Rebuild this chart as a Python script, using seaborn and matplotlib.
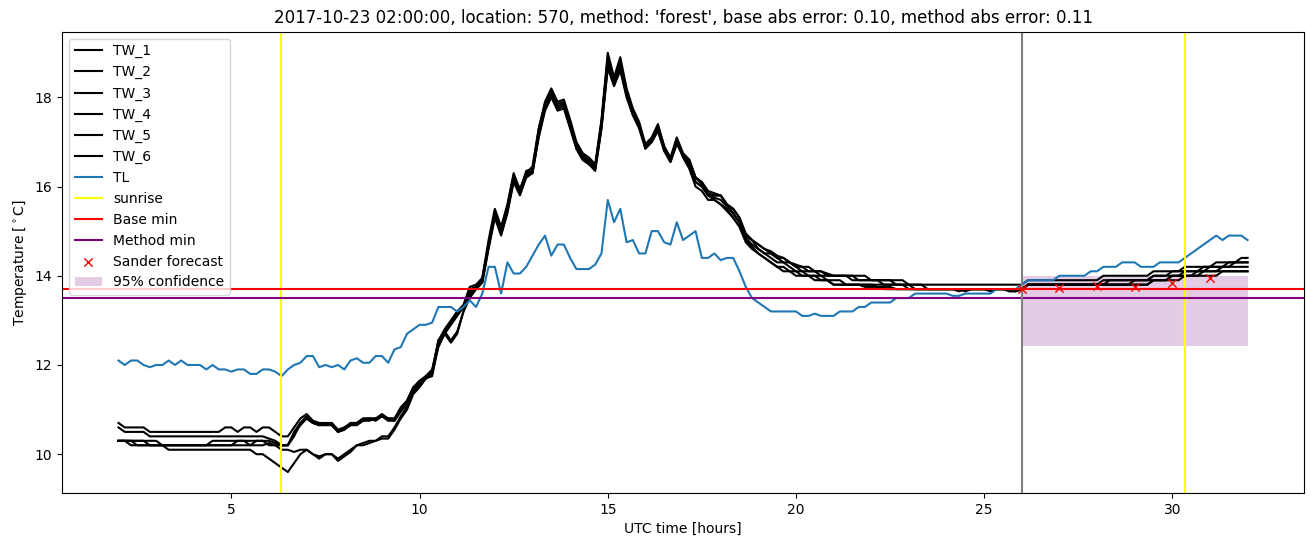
import numpy as np
import matplotlib
matplotlib.use("Agg")
import matplotlib.pyplot as plt
import seaborn as sns

# time grid: 10-minute steps from 02:00 to 32:00 (UTC hours)
hours = np.round(np.arange(181) / 6 + 2, 4)

TW_1 = [
    10.7, 10.6, 10.6, 10.6, 10.6, 10.5, 10.5, 10.5, 10.5, 10.5, 10.5, 10.5,
    10.5, 10.5, 10.5, 10.5, 10.5, 10.6, 10.6, 10.5, 10.6, 10.6, 10.5, 10.6,
    10.6, 10.5, 10.4, 10.4, 10.6, 10.8, 10.9, 10.75, 10.7, 10.7, 10.7, 10.5,
    10.6, 10.7, 10.7, 10.8, 10.8, 10.8, 10.9, 10.8, 10.8, 11.05, 11.2, 11.5,
    11.65, 11.75, 11.85, 12.55, 12.8, 13.0, 13.2, 13.35, 13.75, 13.8, 13.95, 14.8,
    15.5, 15.1, 15.6, 16.3, 15.9, 16.35, 16.4, 17.3, 17.9, 18.2, 17.9, 17.95,
    17.5, 17.0, 16.75, 16.65, 16.5, 17.5, 19.0, 18.45, 18.9, 18.2, 17.75, 17.45,
    16.95, 17.1, 17.4, 16.9, 16.65, 17.1, 16.75, 16.6, 16.2, 16.1, 15.9, 15.85,
    15.8, 15.6, 15.5, 15.3, 14.95, 14.8, 14.7, 14.6, 14.55, 14.45, 14.4, 14.3,
    14.25, 14.2, 14.2, 14.1, 14.1, 14.05, 14.0, 14.0, 14.0, 14.0, 14.0, 14.0,
    13.9, 13.9, 13.9, 13.9, 13.9, 13.9, 13.8, 13.8, 13.8, 13.8, 13.8, 13.8,
    13.8, 13.8, 13.8, 13.8, 13.8, 13.8, 13.8, 13.8, 13.8, 13.8, 13.8, 13.8,
    13.8, 13.9, 13.9, 13.9, 13.9, 13.9, 13.9, 13.9, 13.9, 13.9, 13.9, 13.9,
    13.9, 14.0, 14.0, 14.0, 14.0, 14.0, 14.0, 14.0, 14.0, 14.1, 14.1, 14.1,
    14.1, 14.1, 14.2, 14.2, 14.2, 14.2, 14.2, 14.3, 14.3, 14.3, 14.3, 14.4,
    14.4,
]

TW_2 = [
    10.6, 10.5, 10.5, 10.5, 10.5, 10.4, 10.4, 10.4, 10.4, 10.4, 10.4, 10.4,
    10.4, 10.4, 10.4, 10.4, 10.4, 10.4, 10.4, 10.4, 10.4, 10.4, 10.4, 10.4,
    10.35, 10.3, 10.2, 10.2, 10.5, 10.7, 10.8, 10.7, 10.65, 10.7, 10.65, 10.5,
    10.55, 10.7, 10.7, 10.75, 10.8, 10.75, 10.85, 10.8, 10.75, 11.0, 11.15, 11.45,
    11.6, 11.7, 11.8, 12.5, 12.75, 12.95, 13.15, 13.3, 13.65, 13.75, 13.9, 14.7,
    15.4, 15.0, 15.5, 16.2, 15.85, 16.3, 16.35, 17.2, 17.8, 18.1, 17.8, 17.85,
    17.4, 16.9, 16.7, 16.6, 16.45, 17.4, 18.85, 18.35, 18.75, 18.1, 17.7, 17.4,
    16.9, 17.05, 17.3, 16.85, 16.6, 17.05, 16.7, 16.55, 16.2, 16.1, 15.85, 15.8,
    15.8, 15.6, 15.5, 15.3, 14.9, 14.8, 14.7, 14.6, 14.5, 14.4, 14.4, 14.3,
    14.2, 14.2, 14.1, 14.1, 14.1, 14.0, 14.0, 14.0, 14.0, 13.9, 13.9, 13.9,
    13.9, 13.9, 13.8, 13.8, 13.8, 13.8, 13.8, 13.7, 13.7, 13.7, 13.7, 13.7,
    13.7, 13.7, 13.7, 13.7, 13.7, 13.7, 13.7, 13.7, 13.7, 13.7, 13.7, 13.7,
    13.7, 13.8, 13.8, 13.8, 13.8, 13.8, 13.8, 13.8, 13.8, 13.8, 13.8, 13.8,
    13.8, 13.8, 13.9, 13.9, 13.9, 13.9, 13.9, 13.9, 13.9, 14.0, 14.0, 14.0,
    14.0, 14.0, 14.1, 14.1, 14.1, 14.1, 14.2, 14.2, 14.2, 14.2, 14.3, 14.3,
    14.3,
]

TW_3 = [
    10.3, 10.3, 10.3, 10.3, 10.3, 10.3, 10.3, 10.2, 10.2, 10.2, 10.2, 10.2,
    10.2, 10.2, 10.2, 10.3, 10.3, 10.3, 10.3, 10.3, 10.3, 10.3, 10.3, 10.3,
    10.3, 10.25, 10.2, 10.2, 10.4, 10.7, 10.85, 10.7, 10.7, 10.65, 10.7, 10.55,
    10.6, 10.65, 10.7, 10.8, 10.8, 10.8, 10.85, 10.8, 10.8, 11.0, 11.2, 11.5,
    11.6, 11.7, 11.8, 12.4, 12.7, 12.95, 13.2, 13.3, 13.7, 13.75, 13.95, 14.7,
    15.45, 15.0, 15.55, 16.25, 15.95, 16.3, 16.45, 17.3, 17.85, 18.15, 17.85, 17.9,
    17.45, 16.95, 16.7, 16.6, 16.45, 17.45, 18.9, 18.4, 18.8, 18.15, 17.7, 17.4,
    16.9, 17.05, 17.35, 16.9, 16.6, 17.05, 16.7, 16.5, 16.1, 16.0, 15.8, 15.8,
    15.8, 15.6, 15.4, 15.2, 14.9, 14.8, 14.6, 14.5, 14.5, 14.4, 14.3, 14.3,
    14.2, 14.1, 14.1, 14.1, 14.0, 14.0, 14.0, 14.0, 14.0, 14.0, 13.9, 13.9,
    13.9, 13.9, 13.9, 13.9, 13.8, 13.8, 13.8, 13.8, 13.8, 13.7, 13.7, 13.7,
    13.7, 13.7, 13.7, 13.7, 13.7, 13.7, 13.7, 13.7, 13.7, 13.7, 13.7, 13.7,
    13.7, 13.8, 13.8, 13.8, 13.8, 13.8, 13.8, 13.8, 13.8, 13.8, 13.8, 13.8,
    13.8, 13.9, 13.9, 13.9, 13.9, 13.9, 13.9, 13.9, 13.9, 14.0, 14.0, 14.0,
    14.1, 14.1, 14.1, 14.1, 14.1, 14.2, 14.2, 14.2, 14.2, 14.3, 14.3, 14.3,
    14.3,
]

TW_4 = [
    10.3, 10.3, 10.3, 10.2, 10.2, 10.2, 10.2, 10.2, 10.2, 10.2, 10.2, 10.2,
    10.2, 10.2, 10.2, 10.2, 10.2, 10.2, 10.2, 10.3, 10.3, 10.2, 10.3, 10.3,
    10.2, 10.2, 10.2, 10.2, 10.45, 10.65, 10.8, 10.7, 10.65, 10.65, 10.65, 10.5,
    10.55, 10.65, 10.65, 10.75, 10.75, 10.8, 10.85, 10.75, 10.75, 10.95, 11.1, 11.45,
    11.55, 11.7, 11.75, 12.45, 12.7, 12.9, 13.1, 13.3, 13.6, 13.7, 13.85, 14.65,
    15.35, 14.95, 15.45, 16.15, 15.85, 16.25, 16.3, 17.15, 17.75, 18.05, 17.75, 17.8,
    17.35, 16.85, 16.6, 16.5, 16.4, 17.3, 18.7, 18.3, 18.65, 18.05, 17.6, 17.35,
    16.85, 17.0, 17.25, 16.8, 16.55, 17.0, 16.65, 16.4, 16.0, 15.9, 15.7, 15.7,
    15.6, 15.5, 15.3, 15.1, 14.8, 14.65, 14.5, 14.4, 14.3, 14.2, 14.2, 14.1,
    14.1, 14.0, 14.0, 14.0, 13.9, 13.9, 13.8, 13.8, 13.8, 13.8, 13.8, 13.8,
    13.8, 13.75, 13.75, 13.75, 13.7, 13.7, 13.7, 13.7, 13.7, 13.7, 13.7, 13.7,
    13.7, 13.7, 13.7, 13.65, 13.7, 13.7, 13.7, 13.7, 13.7, 13.7, 13.7, 13.65,
    13.7, 13.8, 13.8, 13.8, 13.8, 13.8, 13.8, 13.8, 13.8, 13.8, 13.8, 13.8,
    13.8, 13.8, 13.8, 13.8, 13.8, 13.8, 13.8, 13.8, 13.8, 13.9, 13.9, 13.9,
    14.0, 14.0, 14.0, 14.0, 14.0, 14.1, 14.1, 14.1, 14.1, 14.1, 14.1, 14.1,
    14.1,
]

TW_5 = [
    10.3, 10.3, 10.2, 10.2, 10.2, 10.2, 10.2, 10.2, 10.1, 10.1, 10.1, 10.1,
    10.1, 10.1, 10.1, 10.1, 10.1, 10.1, 10.1, 10.1, 10.1, 10.1, 10.0, 10.0,
    9.9, 9.8, 9.7, 9.6, 9.8, 10.0, 10.1, 10.0, 9.9, 10.0, 10.0, 9.85,
    9.95, 10.05, 10.2, 10.2, 10.25, 10.3, 10.35, 10.35, 10.55, 10.8, 11.0, 11.35,
    11.5, 11.7, 11.85, 12.55, 12.7, 12.5, 12.7, 13.2, 13.5, 13.7, 13.85, 14.6,
    15.3, 14.9, 15.4, 16.1, 15.8, 16.2, 16.3, 17.1, 17.7, 18.0, 17.7, 17.75,
    17.3, 16.85, 16.6, 16.5, 16.35, 17.3, 18.65, 18.25, 18.6, 18.0, 17.6, 17.3,
    16.85, 17.0, 17.25, 16.8, 16.55, 16.95, 16.7, 16.45, 16.1, 16.0, 15.8, 15.7,
    15.6, 15.45, 15.3, 15.1, 14.75, 14.6, 14.5, 14.4, 14.3, 14.2, 14.1, 14.1,
    14.0, 14.0, 14.0, 13.9, 13.9, 13.9, 13.8, 13.8, 13.8, 13.8, 13.8, 13.75,
    13.75, 13.75, 13.7, 13.7, 13.7, 13.7, 13.7, 13.7, 13.7, 13.7, 13.7, 13.7,
    13.7, 13.7, 13.7, 13.7, 13.7, 13.7, 13.7, 13.7, 13.7, 13.7, 13.65, 13.65,
    13.7, 13.8, 13.8, 13.8, 13.8, 13.8, 13.8, 13.8, 13.8, 13.8, 13.8, 13.8,
    13.8, 13.8, 13.8, 13.8, 13.8, 13.8, 13.8, 13.8, 13.8, 13.9, 13.9, 13.9,
    13.9, 13.9, 14.0, 14.0, 14.0, 14.0, 14.0, 14.0, 14.1, 14.1, 14.1, 14.1,
    14.1,
]

TW_6 = [
    10.3, 10.3, 10.3, 10.3, 10.3, 10.2, 10.2, 10.2, 10.2, 10.2, 10.2, 10.2,
    10.2, 10.2, 10.2, 10.2, 10.2, 10.2, 10.2, 10.2, 10.2, 10.2, 10.2, 10.2,
    10.25, 10.2, 10.1, 10.1, 10.05, 10.1, 10.1, 10.0, 9.95, 10.0, 10.0, 9.9,
    10.0, 10.1, 10.2, 10.25, 10.3, 10.3, 10.4, 10.4, 10.6, 10.85, 11.05, 11.4,
    11.55, 11.75, 11.9, 12.5, 12.75, 12.55, 12.75, 13.2, 13.55, 13.7, 13.9, 14.65,
    15.35, 14.95, 15.45, 16.2, 15.85, 16.25, 16.35, 17.2, 17.75, 18.05, 17.8, 17.85,
    17.4, 16.9, 16.65, 16.55, 16.4, 17.4, 18.8, 18.35, 18.7, 18.1, 17.65, 17.35,
    16.9, 17.0, 17.3, 16.85, 16.6, 17.0, 16.7, 16.6, 16.2, 16.05, 15.8, 15.75,
    15.7, 15.55, 15.4, 15.2, 14.85, 14.7, 14.6, 14.5, 14.4, 14.3, 14.3, 14.2,
    14.1, 14.1, 14.0, 14.0, 14.0, 13.9, 13.9, 13.9, 13.8, 13.8, 13.8, 13.8,
    13.8, 13.8, 13.8, 13.8, 13.8, 13.8, 13.7, 13.7, 13.7, 13.7, 13.7, 13.7,
    13.7, 13.7, 13.65, 13.7, 13.7, 13.7, 13.7, 13.65, 13.7, 13.7, 13.7, 13.7,
    13.7, 13.8, 13.8, 13.8, 13.8, 13.8, 13.8, 13.8, 13.8, 13.8, 13.8, 13.8,
    13.8, 13.8, 13.8, 13.8, 13.8, 13.8, 13.9, 13.9, 13.9, 13.9, 13.9, 13.9,
    14.0, 14.0, 14.0, 14.0, 14.1, 14.1, 14.1, 14.1, 14.2, 14.2, 14.2, 14.2,
    14.2,
]

TL = [
    12.1, 12.0, 12.1, 12.1, 12.0, 11.95, 12.0, 12.0, 12.1, 12.0, 12.1, 12.0,
    12.0, 12.0, 11.9, 12.0, 11.9, 11.9, 11.85, 11.9, 11.9, 11.8, 11.8, 11.9,
    11.9, 11.85, 11.75, 11.9, 12.0, 12.05, 12.2, 12.2, 11.95, 12.0, 11.95, 12.0,
    11.9, 12.1, 12.15, 12.05, 12.05, 12.2, 12.2, 12.05, 12.35, 12.4, 12.7, 12.8,
    12.9, 12.9, 12.95, 13.3, 13.3, 13.3, 13.2, 13.3, 13.45, 13.3, 13.6, 14.2,
    14.2, 13.6, 14.3, 14.05, 14.05, 14.2, 14.45, 14.7, 14.9, 14.45, 14.7, 14.7,
    14.4, 14.15, 14.15, 14.15, 14.25, 14.5, 15.7, 15.2, 15.5, 14.75, 14.8, 14.5,
    14.5, 15.0, 15.0, 14.75, 14.7, 15.2, 14.8, 14.9, 15.0, 14.4, 14.4, 14.5,
    14.35, 14.4, 14.4, 14.1, 13.75, 13.5, 13.4, 13.3, 13.2, 13.2, 13.2, 13.2,
    13.2, 13.1, 13.1, 13.15, 13.1, 13.1, 13.1, 13.2, 13.2, 13.2, 13.3, 13.3,
    13.4, 13.4, 13.4, 13.4, 13.5, 13.5, 13.5, 13.6, 13.6, 13.6, 13.6, 13.6,
    13.6, 13.55, 13.55, 13.6, 13.6, 13.6, 13.6, 13.6, 13.7, 13.7, 13.7, 13.7,
    13.8, 13.9, 13.9, 13.9, 13.9, 13.9, 14.0, 14.0, 14.0, 14.0, 14.0, 14.1,
    14.1, 14.2, 14.2, 14.2, 14.3, 14.3, 14.3, 14.2, 14.2, 14.2, 14.3, 14.3,
    14.3, 14.3, 14.4, 14.5, 14.6, 14.7, 14.8, 14.9, 14.8, 14.9, 14.9, 14.9,
    14.8,
]

tw_names = ["TW_1", "TW_2", "TW_3", "TW_4", "TW_5", "TW_6"]
tw_series = [TW_1, TW_2, TW_3, TW_4, TW_5, TW_6]

sunrise_hours = [6.33, 30.35]
forecast_start = 26.0
base_min = 13.7
method_min = 13.5
sander_hours = [26, 27, 28, 29, 30, 31]
sander_values = [13.70, 13.72, 13.76, 13.75, 13.83, 13.94]
conf_hours = [26.0, 32.0]
conf_low = 12.43
conf_high = 14.0

title = ("2017-10-23 02:00:00, location: 570, method: 'forest', "
         "base abs error: 0.10, method abs error: 0.11")

fig, ax = plt.subplots(figsize=(13.11, 5.47), dpi=100)
fig.subplots_adjust(left=0.0473, right=0.9947, top=0.942, bottom=0.0987)

for name, vals in zip(tw_names, tw_series):
    sns.lineplot(x=hours, y=vals, color="black", label=name, ax=ax,
                 linewidth=1.5, sort=False)
sns.lineplot(x=hours, y=TL, color="#1f77b4", label="TL", ax=ax,
             linewidth=1.5, sort=False)

ax.axvline(sunrise_hours[0], color="yellow", label="sunrise", linewidth=1.5)
ax.axvline(sunrise_hours[1], color="yellow", linewidth=1.5)
ax.axhline(base_min, color="red", label="Base min", linewidth=1.5)
ax.axhline(method_min, color="purple", label="Method min", linewidth=1.5)
ax.axvline(forecast_start, color="gray", linewidth=1.5)
sns.scatterplot(x=sander_hours, y=sander_values, marker="x", color="red",
                s=36, linewidth=1.0, label="Sander forecast", ax=ax, zorder=3)
ax.fill_between(conf_hours, conf_low, conf_high, color="purple", alpha=0.2,
                linewidth=0, label="95% confidence")

ax.set_title(title)
ax.set_xlabel("UTC time [hours]")
ax.set_ylabel(r"Temperature [$^\circ$C]")
ax.legend(loc="upper left")

fig.savefig("out.png", dpi=100)
